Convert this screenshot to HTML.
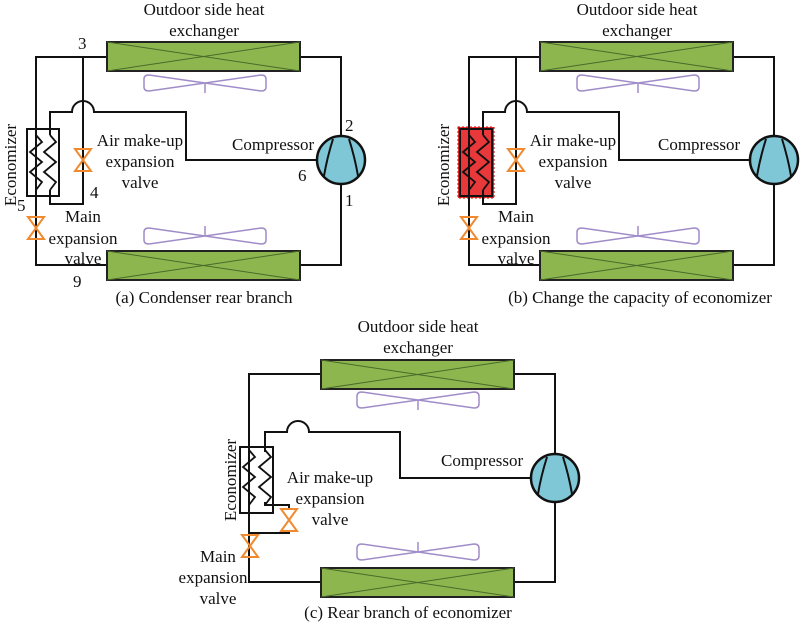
<!DOCTYPE html>
<html><head><style>body{margin:0;background:#fff}svg{display:block}svg text{font-family:"Liberation Serif",serif}</style></head><body>
<svg width="800" height="625" viewBox="0 0 800 625" font-family="'Liberation Serif', serif" font-size="17" fill="#111">
<defs>
<g id="hx"><rect x="0" y="0" width="193" height="29" fill="#8db64f" stroke="#222" stroke-width="2"/><path d="M0 0L193 29M0 29L193 0" stroke="#4a6a2a" stroke-width="1"/></g>
<g id="fan" fill="none" stroke="#a08cc8" stroke-width="1.5"><path d="M0 0 L-56 -8 Q-61 -8 -61 -4 V4 Q-61 8 -56 8 L0 0 L56 8 Q61 8 61 4 V-4 Q61 -8 56 -8 Z"/></g>
<g id="comp"><circle r="24" fill="#7fc7d6" stroke="#111" stroke-width="2.5"/><path d="M-17 16 Q-14 -2 -8 -21 M17 16 Q14 -2 8 -21" stroke="#111" stroke-width="2" fill="none"/></g>
<g id="valve"><path d="M-8 -11 L8 -11 L-8 11 L8 11 Z" fill="none" stroke="#f08a30" stroke-width="2"/></g>
<g id="zz" fill="none" stroke="#111" stroke-width="1.8"><path d="M0 0 L6 7 L-6 17 L6 27 L-6 37 L6 47 L0 55"/></g>
</defs>

<!-- (a) -->
<g stroke="#111" stroke-width="2" fill="none">
<path d="M107 57 H36 V265 H107"/><path d="M300 57 H341 V137"/><path d="M341 184 V265 H300"/>
<path d="M83 57 V204 H50 V190"/>
<path d="M50 135 V112 H72 A11 11 0 0 1 94 112 H186 V160 H317"/>
<rect x="27" y="129" width="32" height="67"/>
</g>
<use href="#zz" x="36" y="135"/><use href="#zz" x="50" y="135"/>
<use href="#hx" x="107" y="42"/><use href="#hx" x="107" y="251"/>
<use href="#fan" x="205" y="83"/><use href="#fan" x="205" y="236"/>
<path d="M205 83 V93 M205 226 V236" stroke="#a08cc8" stroke-width="1.5"/>
<use href="#valve" x="83" y="160"/><use href="#valve" x="36" y="228"/>
<use href="#comp" x="341" y="160"/>
<text x="204" y="15" text-anchor="middle">Outdoor side heat</text><text x="204" y="36" text-anchor="middle">exchanger</text>
<text x="78" y="49">3</text><text x="345" y="131">2</text><text x="232" y="150">Compressor</text>
<text x="298" y="181">6</text><text x="345" y="206">1</text><text x="90" y="198">4</text><text x="17" y="211">5</text><text x="73" y="287">9</text>
<text x="140" y="146" text-anchor="middle">Air make-up</text><text x="140" y="167" text-anchor="middle">expansion</text><text x="140" y="188" text-anchor="middle">valve</text>
<text x="83" y="222" text-anchor="middle">Main</text><text x="83" y="244" text-anchor="middle">expansion</text><text x="83" y="264" text-anchor="middle">valve</text>
<text transform="translate(16 165) rotate(-90)" text-anchor="middle">Economizer</text>
<text x="204" y="303" text-anchor="middle">(a) Condenser rear branch</text>

<!-- (b) -->
<g transform="translate(433 0)">
<rect x="25" y="127" width="36" height="71" fill="#e8383a" stroke="#c00" stroke-width="1" stroke-dasharray="2 2"/>
<g stroke="#111" stroke-width="2" fill="none">
<path d="M107 57 H36 V265 H107"/><path d="M300 57 H341 V137"/><path d="M341 184 V265 H300"/>
<path d="M83 57 V204 H50 V190"/>
<path d="M50 135 V112 H72 A11 11 0 0 1 94 112 H186 V160 H317"/>
<rect x="27" y="129" width="32" height="67"/>
</g>
<use href="#zz" x="36" y="135"/><use href="#zz" x="50" y="135"/>
<use href="#hx" x="107" y="42"/><use href="#hx" x="107" y="251"/>
<use href="#fan" x="205" y="83"/><use href="#fan" x="205" y="236"/>
<path d="M205 83 V93 M205 226 V236" stroke="#a08cc8" stroke-width="1.5"/>
<use href="#valve" x="83" y="160"/><use href="#valve" x="36" y="228"/>
<use href="#comp" x="341" y="160"/>
<text x="204" y="15" text-anchor="middle">Outdoor side heat</text><text x="204" y="36" text-anchor="middle">exchanger</text>
<text x="225" y="150">Compressor</text>
<text x="140" y="146" text-anchor="middle">Air make-up</text><text x="140" y="167" text-anchor="middle">expansion</text><text x="140" y="188" text-anchor="middle">valve</text>
<text x="83" y="222" text-anchor="middle">Main</text><text x="83" y="244" text-anchor="middle">expansion</text><text x="83" y="264" text-anchor="middle">valve</text>
<text transform="translate(16 165) rotate(-90)" text-anchor="middle">Economizer</text>
</g>
<text x="640" y="303" text-anchor="middle">(b) Change the capacity of economizer</text>

<!-- (c) -->
<g stroke="#111" stroke-width="2" fill="none">
<path d="M321 374 H249 V582 H321"/><path d="M513 374 H555 V455"/><path d="M555 501 V582 H513"/>
<path d="M249 505 V533 H289 V530"/><path d="M265 502 V505 H289 V510"/>
<path d="M265 452 V432 H287 A11 11 0 0 1 309 432 H400 V478 H531"/>
<rect x="240" y="447" width="33" height="66"/>
</g>
<use href="#zz" x="249" y="450"/><use href="#zz" x="265" y="450"/>
<use href="#hx" x="321" y="360"/><use href="#hx" x="321" y="568"/>
<use href="#fan" x="418" y="400"/><use href="#fan" x="418" y="552"/>
<path d="M418 400 V410 M418 542 V552" stroke="#a08cc8" stroke-width="1.5"/>
<use href="#valve" x="289" y="520"/><use href="#valve" x="250" y="546"/>
<use href="#comp" x="555" y="478"/>
<text x="418" y="332" text-anchor="middle">Outdoor side heat</text><text x="418" y="353" text-anchor="middle">exchanger</text>
<text x="441" y="466">Compressor</text>
<text x="330" y="483" text-anchor="middle">Air make-up</text><text x="330" y="504" text-anchor="middle">expansion</text><text x="330" y="525" text-anchor="middle">valve</text>
<text x="218" y="562" text-anchor="middle">Main</text><text x="213" y="583" text-anchor="middle">expansion</text><text x="218" y="604" text-anchor="middle">valve</text>
<text transform="translate(236 480) rotate(-90)" text-anchor="middle">Economizer</text>
<text x="408" y="618" text-anchor="middle">(c) Rear branch of economizer</text>
</svg>
</body></html>
